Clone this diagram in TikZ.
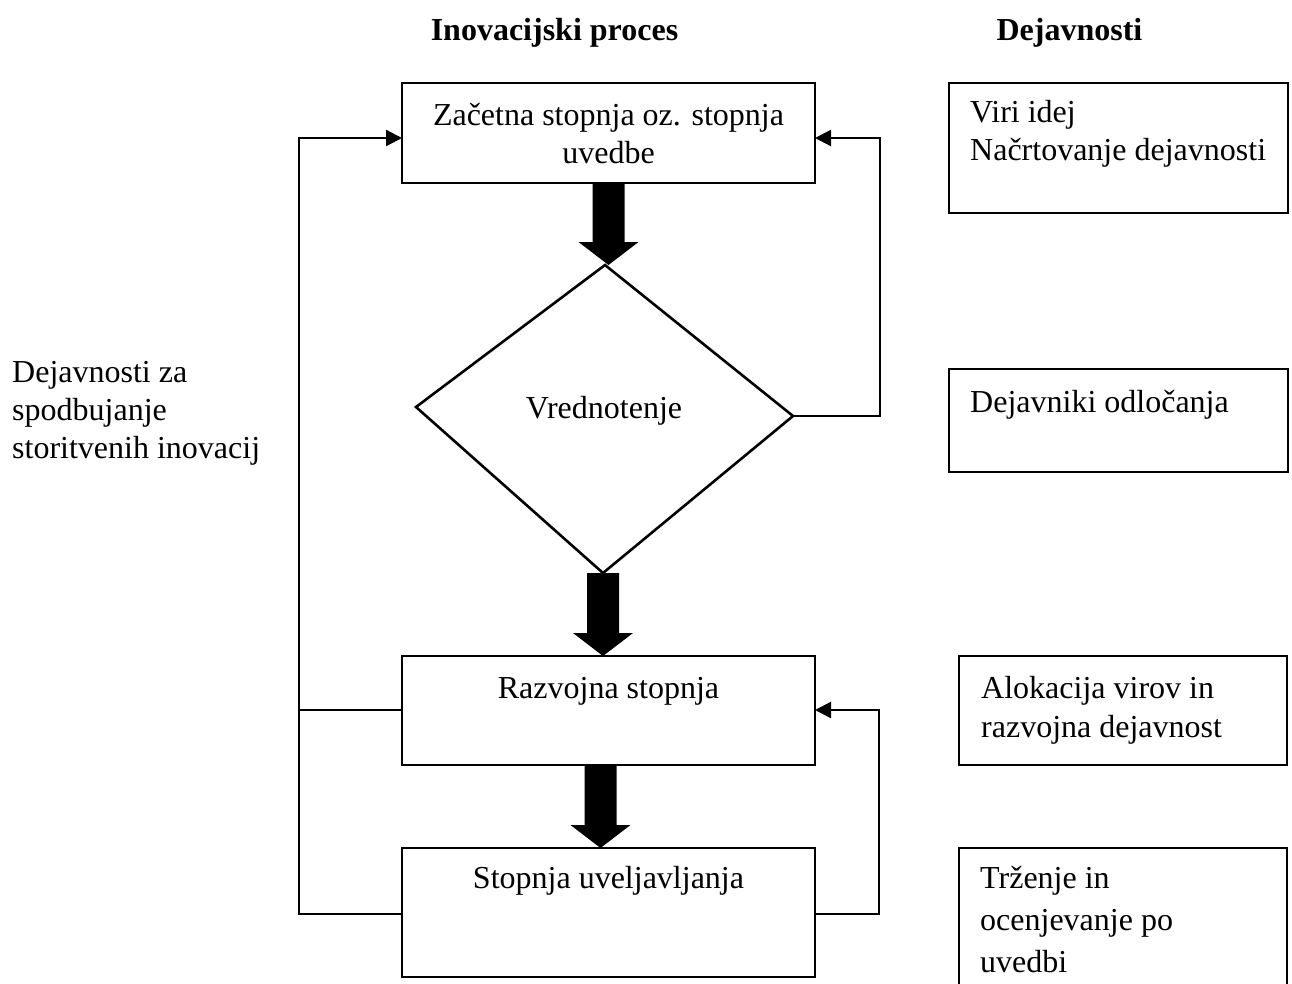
\documentclass[tikz,border=0pt]{standalone}
\usepackage{fontspec}
\setmainfont{Liberation Serif}
\usetikzlibrary{arrows.meta,calc}

% thick block arrow: shaft starts at #1, tip lands at the height of #2
\newcommand\blockarrow[2]{%
  \fill let \p1=(#1), \p2=(#2) in
    (\x1-16pt,\y1) -- (\x1+16pt,\y1) -- (\x1+16pt,\y2+23pt) -- (\x1+30pt,\y2+23pt)
    -- (\x1,\y2) -- (\x1-30pt,\y2+23pt) -- (\x1-16pt,\y2+23pt) -- cycle;}

\begin{document}
\begin{tikzpicture}[x=1pt,y=-1pt,
  box/.style={draw, line width=2.6pt, inner sep=0pt, outer sep=0pt},
  txt/.style={inner sep=0pt, font=\fontsize{32}{38}\selectfont},
  ttl/.style={txt, font=\fontsize{32}{38}\selectfont\bfseries},
  conn/.style={line width=2.3pt},
  tip/.style={-{Triangle[length=16pt,width=16pt]}}]

\useasboundingbox (0,0) rectangle (1292,983);
\clip (0,0) rectangle (1292,983);

% column headings
\node[ttl, anchor=base] (h1) at (554.5,40) {Inovacijski proces};
\node[ttl, anchor=base] (h2) at (1069.5,40) {Dejavnosti};

% process boxes
\node[box, minimum width=413pt, minimum height=100pt] (b1) at (608.5,133) {};
\node[txt, anchor=base] (b1a) at (608.5,125) {Začetna stopnja oz. stopnja};
\node[txt, anchor=base] (b1b) at (608.5,163) {uvedbe};

\coordinate (dT) at (605,265);
\coordinate (dR) at (793,416);
\coordinate (dB) at (603,573);
\coordinate (dL) at (416,407);
\draw[box] (dT) -- (dR) -- (dB) -- (dL) -- cycle;
\node[txt, anchor=base] (dtxt) at (604,418) {Vrednotenje};

\node[box, minimum width=413pt, minimum height=109pt] (b2) at (608.5,710.5) {};
\node[txt, anchor=base] (b2a) at (608.5,698) {Razvojna stopnja};

\node[box, minimum width=413pt, minimum height=129pt] (b3) at (608.5,912.5) {};
\node[txt, anchor=base] (b3a) at (608.5,888) {Stopnja uveljavljanja};

% activity boxes
\node[box, minimum width=339pt, minimum height=130pt] (r1) at (1118.5,148) {};
\node[txt, anchor=base west] (r1a) at (970,122) {Viri idej};
\node[txt, anchor=base west] (r1b) at (970,160) {Načrtovanje dejavnosti};

\node[box, minimum width=339pt, minimum height=103pt] (r2) at (1118.5,420.5) {};
\node[txt, anchor=base west] (r2a) at (970,412) {Dejavniki odločanja};

\node[box, minimum width=328pt, minimum height=109pt] (r3) at (1123,710.5) {};
\node[txt, anchor=base west] (r3a) at (981,698) {Alokacija virov in};
\node[txt, anchor=base west] (r3b) at (981,737) {razvojna dejavnost};

\node[box, minimum width=328pt, minimum height=152pt] (r4) at (1123,924) {};
\node[txt, anchor=base west] (r4a) at (980,888) {Trženje in};
\node[txt, anchor=base west] (r4b) at (980,930) {ocenjevanje po};
\node[txt, anchor=base west] (r4c) at (980,972) {uvedbi};

% side label
\node[txt, anchor=base west] (la) at (12,382) {Dejavnosti za};
\node[txt, anchor=base west] (lb) at (12,420) {spodbujanje};
\node[txt, anchor=base west] (lc) at (12,458) {storitvenih inovacij};

% block arrows between stages
\blockarrow{b1.south}{dT}
\blockarrow{dB}{b2.north}
\coordinate (a3) at ($(b2.south)+(-8,0)$);
\blockarrow{a3}{b3.north}

% feedback loops
\coordinate (fb1) at (880,138);
\draw[conn, tip] (dR) -| (fb1) -- (fb1 -| b1.east);

\coordinate (L1) at (299,138);
\coordinate (L2) at (299,710);
\coordinate (L3) at (299,914);
\draw[conn, tip] (L3 -| b3.west) -- (L3) -- (L1) -- (L1 -| b1.west);
\draw[conn] (L2) -- (L2 -| b2.west);

\coordinate (R2) at (879,710);
\coordinate (R3) at (879,914);
\draw[conn, tip] (R3 -| b3.east) -- (R3) -- (R2) -- (R2 -| b2.east);

\end{tikzpicture}
\end{document}
